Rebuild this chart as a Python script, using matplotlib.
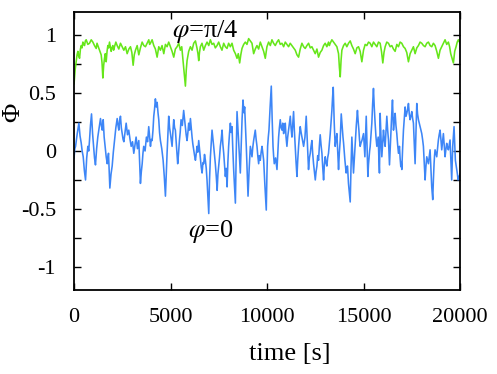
import matplotlib
matplotlib.use("Agg")
import matplotlib.pyplot as plt
from matplotlib.ticker import MultipleLocator

plt.rcParams['font.family'] = ['Liberation Serif', 'DejaVu Serif']
plt.rcParams['mathtext.fontset'] = 'stix'

# phi = pi/4 run (green): (time [s], Phi)
green_run = [
    (0, 0.58), (56, 0.70), (112, 0.77), (155, 0.83), (198, 0.86), (240, 0.82), (285, 0.80),
    (330, 0.88), (371, 0.91), (415, 0.89), (457, 0.94), (500, 0.92), (543, 0.91), (585, 0.95),
    (629, 0.96), (715, 0.92), (802, 0.93), (890, 0.96), (974, 0.94), (1060, 0.91),
    (1147, 0.885), (1190, 0.93), (1233, 0.91), (1320, 0.87), (1406, 0.83), (1450, 0.76),
    (1492, 0.63), (1535, 0.74), (1578, 0.80), (1620, 0.84), (1664, 0.77), (1710, 0.86),
    (1751, 0.91), (1795, 0.89), (1837, 0.94), (1880, 0.90), (1923, 0.86), (1965, 0.89),
    (2010, 0.91), (2050, 0.87), (2096, 0.90), (2165, 0.94), (2234, 0.91), (2320, 0.88),
    (2406, 0.93), (2490, 0.90), (2579, 0.87), (2665, 0.90), (2751, 0.84), (2840, 0.88),
    (2924, 0.90), (2995, 0.85), (3062, 0.74), (3120, 0.83), (3183, 0.87), (3270, 0.91),
    (3355, 0.83), (3440, 0.89), (3528, 0.94), (3615, 0.91), (3700, 0.90), (3785, 0.93),
    (3873, 0.96), (3915, 0.92), (3959, 0.93), (4045, 0.96), (4131, 0.91), (4215, 0.88),
    (4304, 0.81), (4390, 0.90), (4476, 0.87), (4560, 0.91), (4649, 0.84), (4735, 0.92),
    (4821, 0.90), (4905, 0.94), (4994, 0.90), (5080, 0.86), (5166, 0.81), (5250, 0.88),
    (5339, 0.90), (5425, 0.93), (5511, 0.87), (5580, 0.90), (5649, 0.78), (5710, 0.68),
    (5770, 0.56), (5815, 0.70), (5856, 0.78), (5940, 0.86), (6029, 0.90), (6115, 0.87),
    (6201, 0.93), (6290, 0.95), (6374, 0.885), (6420, 0.84), (6460, 0.78), (6500, 0.85),
    (6546, 0.90), (6630, 0.93), (6719, 0.87), (6805, 0.91), (6891, 0.94), (6980, 0.91),
    (7064, 0.96), (7150, 0.92), (7236, 0.93), (7320, 0.89), (7409, 0.91), (7495, 0.94),
    (7581, 0.90), (7665, 0.87), (7754, 0.93), (7840, 0.90), (7926, 0.885), (8010, 0.93),
    (8099, 0.90), (8185, 0.93), (8271, 0.87), (8360, 0.84), (8444, 0.80), (8510, 0.84),
    (8582, 0.76), (8640, 0.83), (8702, 0.885), (8790, 0.92), (8875, 0.94), (8960, 0.92),
    (9047, 0.97), (9135, 0.95), (9220, 0.93), (9260, 0.89), (9306, 0.84), (9390, 0.88),
    (9478, 0.91), (9565, 0.88), (9651, 0.94), (9695, 0.92), (9737, 0.90), (9825, 0.86),
    (9909, 0.80), (9995, 0.90), (10082, 0.94), (10170, 0.91), (10254, 0.96), (10340, 0.93),
    (10427, 0.91), (10515, 0.94), (10599, 0.96), (10685, 0.92), (10772, 0.93), (10860, 0.90),
    (10944, 0.94), (11030, 0.92), (11117, 0.90), (11200, 0.93), (11289, 0.91), (11375, 0.89),
    (11462, 0.87), (11550, 0.83), (11634, 0.81), (11720, 0.88), (11807, 0.93), (11895, 0.90),
    (11979, 0.885), (12065, 0.91), (12152, 0.93), (12240, 0.89), (12324, 0.90), (12410, 0.87),
    (12497, 0.84), (12585, 0.88), (12669, 0.81), (12755, 0.85), (12842, 0.87), (12930, 0.91),
    (13014, 0.93), (13100, 0.90), (13187, 0.94), (13230, 0.91), (13274, 0.93), (13360, 0.96),
    (13447, 0.94), (13530, 0.92), (13619, 0.90), (13660, 0.87), (13705, 0.84), (13750, 0.72),
    (13792, 0.64), (13835, 0.78), (13878, 0.87), (13965, 0.91), (14050, 0.93), (14135, 0.90),
    (14223, 0.93), (14310, 0.95), (14395, 0.91), (14480, 0.88), (14568, 0.84), (14655, 0.89),
    (14740, 0.90), (14825, 0.86), (14913, 0.77), (14955, 0.82), (14999, 0.87), (15085, 0.92),
    (15171, 0.91), (15260, 0.94), (15344, 0.93), (15430, 0.90), (15516, 0.94), (15600, 0.92),
    (15689, 0.90), (15775, 0.94), (15861, 0.93), (15930, 0.86), (15999, 0.76), (16060, 0.85),
    (16120, 0.90), (16205, 0.94), (16292, 0.93), (16380, 0.90), (16465, 0.91), (16550, 0.88),
    (16637, 0.86), (16725, 0.92), (16810, 0.90), (16895, 0.94), (16982, 0.93), (17070, 0.90),
    (17155, 0.885), (17240, 0.85), (17327, 0.77), (17415, 0.84), (17500, 0.87), (17585, 0.90),
    (17672, 0.84), (17760, 0.89), (17845, 0.91), (17930, 0.94), (18017, 0.93), (18105, 0.91),
    (18190, 0.90), (18275, 0.93), (18362, 0.94), (18450, 0.91), (18535, 0.90), (18620, 0.93),
    (18707, 0.91), (18795, 0.86), (18880, 0.80), (18965, 0.87), (19052, 0.90), (19140, 0.93),
    (19225, 0.96), (19310, 0.92), (19397, 0.94), (19460, 0.90), (19518, 0.84), (19590, 0.80),
    (19656, 0.76), (19725, 0.86), (19794, 0.90), (19855, 0.94), (19915, 0.96), (20000, 0.93),
]

# phi = 0 run (blue): (time [s], Phi)
blue_run = [
    (0, -0.06), (40, 0.02), (78, 0.04), (165, 0.15), (250, 0.24), (310, 0.13), (370, 0.07),
    (420, 0.00), (475, -0.05), (535, -0.17), (595, -0.25), (655, -0.06), (715, 0.04),
    (760, 0.00), (800, 0.09), (850, 0.22), (905, 0.32), (960, 0.15), (1010, 0.04),
    (1060, -0.06), (1110, -0.12), (1170, 0.02), (1230, 0.12), (1300, 0.20), (1370, 0.28),
    (1415, 0.22), (1460, 0.18), (1485, 0.22), (1510, 0.27), (1560, 0.12), (1610, 0.04),
    (1665, -0.05), (1720, -0.11), (1750, -0.06), (1785, -0.02), (1820, -0.18), (1855, -0.32),
    (1915, -0.20), (1975, -0.13), (2035, -0.01), (2095, 0.09), (2165, 0.20), (2235, 0.28),
    (2280, 0.22), (2320, 0.18), (2360, 0.26), (2405, 0.30), (2450, 0.20), (2495, 0.15),
    (2540, 0.10), (2580, 0.08), (2640, 0.16), (2700, 0.24), (2770, 0.14), (2835, 0.18),
    (2900, 0.10), (2960, 0.04), (3030, 0.08), (3095, -0.02), (3155, 0.05), (3215, 0.12),
    (3285, 0.02), (3355, 0.09), (3400, -0.10), (3440, -0.28), (3485, -0.18), (3530, -0.11),
    (3570, -0.02), (3610, 0.04), (3680, 0.00), (3750, 0.12), (3810, 0.08), (3870, 0.21),
    (3915, 0.12), (3960, 0.04), (4000, 0.10), (4045, 0.09), (4090, 0.18), (4130, 0.30),
    (4170, 0.36), (4215, 0.45), (4260, 0.38), (4305, 0.42), (4350, 0.33), (4390, 0.27),
    (4430, 0.16), (4475, 0.09), (4545, 0.02), (4615, -0.08), (4675, -0.22), (4735, -0.39),
    (4780, -0.18), (4820, -0.02), (4860, 0.14), (4905, 0.30), (4950, 0.20), (4995, 0.15),
    (5040, 0.09), (5080, 0.04), (5120, 0.16), (5165, 0.27), (5210, 0.20), (5250, 0.18),
    (5310, 0.03), (5370, -0.11), (5415, -0.02), (5460, 0.09), (5500, 0.16), (5545, 0.27),
    (5610, 0.22), (5680, 0.35), (5725, 0.28), (5770, 0.21), (5810, 0.14), (5855, 0.09),
    (5900, 0.16), (5940, 0.24), (5985, 0.18), (6030, 0.28), (6070, 0.20), (6115, 0.12),
    (6155, 0.06), (6200, 0.01), (6245, -0.04), (6290, -0.08), (6330, -0.02), (6375, 0.04),
    (6415, -0.01), (6460, 0.09), (6500, 0.02), (6545, -0.05), (6590, -0.14), (6635, -0.19),
    (6680, -0.10), (6720, -0.11), (6760, -0.03), (6805, -0.08), (6850, -0.15), (6890, -0.25),
    (6935, -0.40), (6980, -0.54), (7020, -0.25), (7065, -0.05), (7105, 0.06), (7150, 0.18),
    (7235, 0.04), (7320, -0.11), (7370, -0.22), (7415, -0.34), (7455, -0.20), (7495, -0.13),
    (7535, -0.06), (7580, 0.04), (7625, 0.10), (7670, 0.18), (7710, 0.06), (7755, -0.02),
    (7800, -0.12), (7840, -0.22), (7885, -0.15), (7930, -0.31), (7970, -0.10), (8010, 0.04),
    (8055, 0.15), (8100, 0.24), (8140, 0.16), (8185, 0.21), (8225, 0.02), (8270, -0.16),
    (8315, -0.30), (8360, -0.45), (8400, -0.05), (8445, 0.34), (8490, 0.20), (8530, 0.09),
    (8575, -0.06), (8615, -0.19), (8660, 0.05), (8705, 0.27), (8755, 0.44), (8800, 0.33),
    (8840, 0.38), (8880, 0.22), (8925, 0.04), (8970, -0.18), (9015, -0.39), (9075, -0.15),
    (9135, 0.04), (9175, 0.00), (9220, -0.05), (9260, 0.03), (9305, 0.09), (9345, 0.13),
    (9390, 0.18), (9435, 0.10), (9480, 0.04), (9520, -0.04), (9565, -0.11), (9605, -0.04),
    (9650, -0.08), (9695, -0.01), (9740, 0.04), (9785, -0.02), (9825, -0.08), (9890, -0.30),
    (9960, -0.51), (9995, -0.20), (10030, 0.04), (10065, 0.12), (10100, 0.18), (10160, 0.38),
    (10220, 0.56), (10265, 0.28), (10310, 0.04), (10340, -0.04), (10375, -0.11),
    (10445, -0.06), (10515, -0.16), (10555, -0.02), (10600, 0.12), (10640, 0.20),
    (10685, 0.27), (10730, 0.20), (10775, 0.18), (10815, 0.24), (10860, 0.15), (10900, 0.20),
    (10945, 0.24), (10985, 0.12), (11030, 0.04), (11070, 0.12), (11115, 0.18), (11160, 0.24),
    (11205, 0.30), (11245, 0.20), (11290, 0.12), (11330, 0.22), (11375, 0.34), (11415, 0.18),
    (11460, 0.04), (11505, -0.10), (11550, -0.22), (11590, -0.08), (11635, 0.04),
    (11675, 0.13), (11720, 0.21), (11765, 0.16), (11810, 0.12), (11850, 0.08), (11895, 0.04),
    (11930, 0.08), (11965, 0.12), (12000, 0.22), (12030, 0.30), (12065, 0.16), (12100, 0.04),
    (12125, -0.06), (12150, -0.16), (12195, -0.06), (12240, -0.02), (12280, 0.04),
    (12325, 0.09), (12365, -0.02), (12410, -0.11), (12455, -0.18), (12500, -0.25),
    (12540, -0.18), (12585, -0.13), (12625, -0.04), (12670, -0.08), (12710, 0.04),
    (12755, 0.14), (12800, 0.05), (12845, -0.02), (12885, -0.14), (12930, -0.25),
    (12970, -0.12), (13015, -0.05), (13055, -0.10), (13100, -0.13), (13140, -0.06),
    (13185, -0.02), (13230, 0.06), (13275, 0.15), (13320, 0.26), (13360, 0.35), (13395, 0.46),
    (13430, 0.55), (13480, 0.25), (13530, 0.04), (13575, 0.10), (13620, 0.15), (13660, 0.00),
    (13705, -0.16), (13745, -0.02), (13790, 0.09), (13820, 0.22), (13845, 0.32), (13880, 0.24),
    (13910, 0.18), (13935, 0.12), (13965, 0.07), (14000, -0.01), (14035, -0.08),
    (14065, -0.13), (14100, -0.19), (14135, -0.14), (14170, -0.13), (14195, -0.20),
    (14220, -0.28), (14265, -0.36), (14310, -0.44), (14350, -0.15), (14395, 0.12),
    (14440, -0.04), (14480, -0.19), (14520, -0.08), (14565, 0.04), (14625, 0.22),
    (14685, 0.35), (14720, 0.26), (14760, 0.18), (14790, 0.10), (14825, 0.04), (14870, 0.07),
    (14915, 0.09), (14955, 0.12), (15000, 0.15), (15035, 0.05), (15070, -0.05), (15105, 0.12),
    (15140, 0.30), (15180, 0.05), (15225, -0.22), (15255, -0.12), (15290, -0.05),
    (15315, 0.00), (15345, 0.04), (15385, 0.14), (15430, 0.24), (15470, 0.40), (15515, 0.54),
    (15555, 0.38), (15600, 0.24), (15645, 0.12), (15690, 0.04), (15725, 0.08), (15760, 0.12),
    (15790, -0.04), (15825, -0.19), (15845, 0.05), (15861, 0.325), (15905, 0.12),
    (15948, -0.05), (15990, 0.06), (16034, 0.18), (16075, 0.10), (16120, 0.04), (16165, 0.18),
    (16207, 0.30), (16250, 0.18), (16293, 0.095), (16320, -0.02), (16345, -0.12),
    (16390, 0.05), (16431, 0.21), (16465, 0.33), (16500, 0.44), (16525, 0.30), (16552, 0.18),
    (16595, 0.26), (16638, 0.325), (16680, 0.22), (16724, 0.15), (16765, 0.06),
    (16810, -0.02), (16835, 0.01), (16862, 0.04), (16895, -0.06), (16931, -0.135),
    (16955, -0.10), (16983, -0.16), (17025, 0.02), (17069, 0.18), (17110, 0.28),
    (17155, 0.38), (17200, 0.30), (17241, 0.325), (17285, 0.36), (17328, 0.41), (17370, 0.32),
    (17414, 0.27), (17455, 0.30), (17500, 0.34), (17545, 0.28), (17586, 0.24), (17630, 0.06),
    (17672, -0.11), (17715, 0.15), (17759, 0.41), (17800, 0.32), (17845, 0.27), (17890, 0.24),
    (17931, 0.21), (17975, 0.18), (18017, 0.15), (18060, 0.10), (18103, 0.04), (18145, -0.10),
    (18190, -0.25), (18230, -0.14), (18276, -0.05), (18320, -0.08), (18362, -0.11),
    (18405, -0.05), (18448, 0.01), (18490, -0.14), (18534, -0.31), (18586, -0.42),
    (18620, -0.25), (18655, -0.11), (18680, -0.04), (18707, 0.01), (18750, -0.02),
    (18793, -0.05), (18835, 0.02), (18879, 0.095), (18920, 0.14), (18966, 0.18), (19010, 0.10),
    (19052, 0.01), (19095, 0.08), (19138, 0.15), (19180, 0.05), (19224, -0.05), (19265, 0.01),
    (19310, 0.066), (19350, 0.03), (19397, 0.01), (19440, 0.05), (19483, 0.095),
    (19525, -0.08), (19569, -0.25), (19595, -0.10), (19621, 0.04), (19655, 0.12),
    (19690, 0.21), (19725, 0.06), (19759, -0.08), (19795, -0.12), (19828, -0.16),
    (19865, -0.20), (19897, -0.25), (19950, -0.22), (20000, -0.20),
]

xticks = [0, 5000, 10000, 15000, 20000]
yticks = [-1, -0.5, 0, 0.5, 1]
ytick_labels = ['-1', '-0.5', '0', '0.5', '1']

green_t, green_phi = zip(*green_run)
blue_t, blue_phi = zip(*blue_run)

fig = plt.figure(figsize=(4.97, 3.74), dpi=100)
ax = fig.add_axes([0.149, 0.2246, 0.7766, 0.7434])

ax.plot(green_t, green_phi, color='#66e61a', lw=1.15)
ax.plot(blue_t, blue_phi, color='#3d86f7', lw=1.15)

ax.set_xlim(0, 20000)
ax.set_ylim(-1.2, 1.2)
ax.set_xticks(xticks)
ax.set_xticklabels([str(v) for v in xticks])
ax.set_yticks(yticks)
ax.set_yticklabels(ytick_labels)
ax.yaxis.set_minor_locator(MultipleLocator(0.25))

ax.tick_params(which='both', direction='in', top=True, right=True, length=5, width=1.0,
               labelsize=16, pad=13)
for s in ax.spines.values():
    s.set_linewidth(1.3)

ax.set_xlabel('time [s]', fontsize=19)
ax.xaxis.set_label_coords(0.56, -0.19)
ax.set_ylabel('Φ', fontsize=19)
ax.yaxis.set_label_coords(-0.128, 0.64)

ax.text(5097, 0.98, r'$\varphi$=π/4', fontsize=19, ha='left', va='baseline')
ax.text(5925, -0.74, r'$\varphi$=0', fontsize=19, ha='left', va='baseline')

fig.savefig('out.png', dpi=100)
